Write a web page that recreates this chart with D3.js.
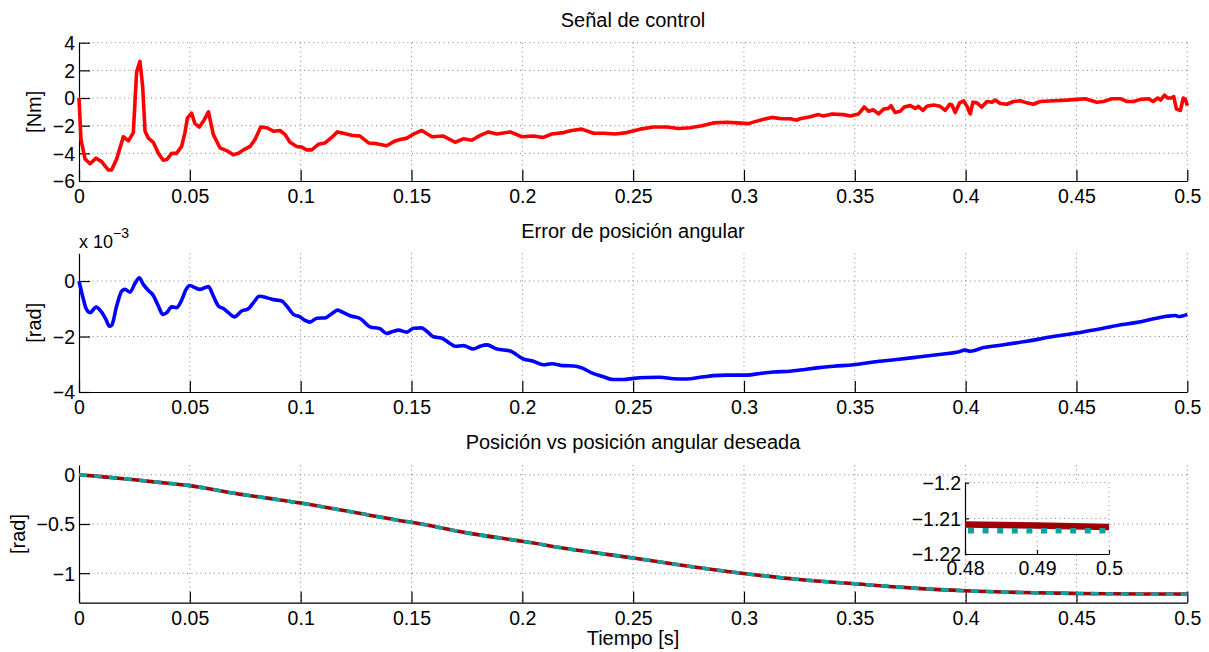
<!DOCTYPE html>
<html><head><meta charset="utf-8">
<script src="https://cdn.jsdelivr.net/npm/d3@7"></script>
<style>
html,body{margin:0;padding:0;background:#fff;}
text{font-family:"Liberation Sans",Arial,Helvetica,sans-serif;fill:#000;}
</style></head>
<body>
<svg id="c" width="1209" height="652"></svg>
<script>
// ---------- DATA ----------
const xTicks = [0,0.05,0.1,0.15,0.2,0.25,0.3,0.35,0.4,0.45,0.5];
const xTickLabels = ["0","0.05","0.1","0.15","0.2","0.25","0.3","0.35","0.4","0.45","0.5"];

// Panel 1: Señal de control [Nm]
const topTicks = [-6,-4,-2,0,2,4];
const topTickLabels = ["\u22126","\u22124","\u22122","0","2","4"];
const tCtrl = [0,0.0009,0.0027,0.005,0.0077,0.0102,0.0132,0.0147,0.017,0.020,0.0223,0.0245,0.026,0.0275,0.0287,0.0298,0.0313,0.0335,0.0358,0.038,0.0396,0.0418,0.044,0.0463,0.0478,0.0489,0.0508,0.0523,0.0543,0.0564,0.0584,0.0606,0.0636,0.0666,0.0696,0.0719,0.0742,0.0772,0.0794,0.082,0.0847,0.0877,0.0907,0.093,0.0952,0.0982,0.1005,0.1027,0.105,0.108,0.111,0.114,0.1166,0.1193,0.123,0.1268,0.1306,0.1343,0.1388,0.1426,0.1449,0.1479,0.1516,0.1546,0.1592,0.1644,0.1697,0.1734,0.1772,0.181,0.1847,0.1885,0.1945,0.1998,0.205,0.2095,0.2133,0.2186,0.2223,0.2268,0.2321,0.2366,0.2419,0.2471,0.2532,0.2592,0.2652,0.2704,0.2757,0.281,0.2862,0.2923,0.2968,0.302,0.3073,0.3126,0.3171,0.3208,0.3238,0.3253,0.3299,0.3336,0.3359,0.3398,0.3449,0.3479,0.3517,0.3543,0.3562,0.3584,0.3607,0.363,0.3652,0.3663,0.3682,0.3705,0.3723,0.375,0.3773,0.3787,0.3807,0.3825,0.3855,0.3885,0.3908,0.3928,0.3938,0.3953,0.3973,0.3991,0.4006,0.4021,0.4033,0.4051,0.4073,0.4096,0.4119,0.4133,0.4156,0.4186,0.4216,0.4246,0.4276,0.4306,0.4336,0.4397,0.4457,0.4502,0.4539,0.4592,0.4622,0.466,0.4698,0.4728,0.4758,0.4788,0.4826,0.4846,0.4867,0.4879,0.4897,0.4912,0.4927,0.4939,0.4951,0.4969,0.4982,0.4992,0.5];
const uCtrl = [0,-3.0,-4.4,-4.75,-4.35,-4.6,-5.2,-5.2,-4.4,-2.8,-3.1,-2.5,1.9,2.65,0.85,-2.4,-2.9,-3.2,-4.0,-4.5,-4.45,-4.0,-4.0,-3.5,-2.5,-1.45,-1.1,-1.85,-2.1,-1.6,-1.0,-2.65,-3.6,-3.8,-4.1,-4.0,-3.75,-3.5,-3.0,-2.1,-2.15,-2.4,-2.35,-2.65,-3.2,-3.5,-3.55,-3.75,-3.75,-3.35,-3.25,-2.85,-2.45,-2.55,-2.7,-2.75,-3.25,-3.3,-3.45,-3.1,-3.0,-2.9,-2.55,-2.35,-2.8,-2.75,-3.2,-2.95,-3.05,-2.7,-2.45,-2.6,-2.45,-2.8,-2.75,-2.85,-2.6,-2.5,-2.35,-2.25,-2.55,-2.55,-2.6,-2.5,-2.25,-2.1,-2.1,-2.2,-2.15,-2.0,-1.8,-1.75,-1.8,-1.85,-1.6,-1.4,-1.5,-1.5,-1.6,-1.5,-1.35,-1.2,-1.3,-1.15,-1.2,-1.3,-1.15,-0.65,-0.95,-0.85,-1.15,-0.8,-0.75,-0.55,-1.05,-0.95,-0.65,-0.55,-0.75,-0.6,-0.9,-0.6,-0.5,-0.6,-0.9,-0.45,-0.5,-1.05,-0.35,-0.2,-0.6,-1.15,-0.3,-0.35,-0.65,-0.25,-0.3,-0.15,-0.4,-0.45,-0.25,-0.2,-0.35,-0.45,-0.25,-0.2,-0.15,-0.1,-0.05,-0.3,-0.25,-0.05,-0.05,-0.25,-0.25,-0.1,-0.05,-0.25,0.0,-0.15,0.2,0.0,0.0,0.1,-0.8,-0.9,0.0,-0.1,-0.55];

// Panel 2: Error de posición angular [rad] (x 10^-3)
const errTicks = [-4,-2,0];
const errTickLabels = ["\u22124","\u22122","0"];
const tErr = [0,0.002,0.0032,0.005,0.0077,0.0102,0.0122,0.0137,0.0147,0.017,0.0193,0.0208,0.023,0.0253,0.0272,0.029,0.0313,0.0335,0.0358,0.0378,0.0396,0.0418,0.044,0.0463,0.0483,0.0501,0.0523,0.0546,0.0584,0.0606,0.0629,0.0651,0.0674,0.0701,0.0734,0.0764,0.0787,0.0814,0.0847,0.0877,0.0915,0.0937,0.0967,0.0997,0.102,0.1042,0.1073,0.111,0.114,0.1166,0.1193,0.123,0.1268,0.1313,0.1358,0.1388,0.1418,0.1441,0.1479,0.1509,0.1546,0.1569,0.1599,0.1637,0.1674,0.1697,0.1734,0.1779,0.181,0.184,0.1885,0.1945,0.2005,0.205,0.2095,0.2133,0.2186,0.2231,0.2268,0.2313,0.2359,0.2411,0.2456,0.2502,0.2562,0.2622,0.2682,0.2742,0.2802,0.2862,0.2923,0.3013,0.3073,0.3133,0.3208,0.3253,0.3329,0.3404,0.3494,0.3584,0.3689,0.3795,0.39,0.396,0.3998,0.4021,0.4081,0.4171,0.4276,0.4382,0.4502,0.4592,0.4683,0.4773,0.4848,0.4908,0.4946,0.4961,0.5];
const eErr = [0,-0.66,-0.99,-1.14,-0.94,-1.12,-1.39,-1.63,-1.6,-0.9,-0.36,-0.3,-0.4,-0.08,0.12,-0.12,-0.34,-0.52,-0.9,-1.2,-1.14,-0.93,-0.96,-0.69,-0.3,-0.16,-0.24,-0.3,-0.2,-0.54,-0.9,-0.99,-1.14,-1.29,-1.08,-1.0,-0.78,-0.55,-0.6,-0.67,-0.72,-0.9,-1.2,-1.29,-1.42,-1.48,-1.34,-1.33,-1.18,-1.05,-1.14,-1.27,-1.35,-1.65,-1.72,-1.89,-1.81,-1.77,-1.84,-1.7,-1.69,-1.81,-2.01,-2.06,-2.25,-2.35,-2.33,-2.45,-2.35,-2.3,-2.45,-2.52,-2.81,-2.89,-3.02,-2.98,-3.05,-3.06,-3.13,-3.31,-3.43,-3.55,-3.55,-3.51,-3.48,-3.47,-3.52,-3.53,-3.47,-3.41,-3.39,-3.39,-3.33,-3.28,-3.25,-3.21,-3.13,-3.07,-3.02,-2.92,-2.83,-2.73,-2.63,-2.57,-2.49,-2.53,-2.4,-2.3,-2.17,-2.02,-1.87,-1.75,-1.6,-1.49,-1.36,-1.27,-1.24,-1.28,-1.2];

// Panel 3: Posición vs posición angular deseada [rad]
const posTicks = [-1,-0.5,0];
const posTickLabels = ["\u22121","\u22120.5","0"];
const tPos = [0,0.01,0.025,0.04,0.05,0.07,0.085,0.1,0.115,0.13,0.145,0.15,0.175,0.2,0.225,0.25,0.275,0.3,0.325,0.35,0.375,0.4,0.425,0.45,0.48,0.49,0.5];
const posActual = [0,-0.018,-0.05,-0.086,-0.11,-0.187,-0.237,-0.287,-0.345,-0.405,-0.466,-0.483,-0.59,-0.676,-0.767,-0.845,-0.929,-1.003,-1.064,-1.108,-1.149,-1.179,-1.196,-1.206,-1.2117,-1.212,-1.2124];
const posDesired = [0,-0.018,-0.05,-0.086,-0.11,-0.187,-0.237,-0.287,-0.345,-0.405,-0.466,-0.483,-0.59,-0.676,-0.767,-0.845,-0.929,-1.003,-1.064,-1.108,-1.149,-1.179,-1.196,-1.206,-1.2135,-1.2135,-1.2135];

// Inset
const insetXTicks = [0.48,0.49,0.5];
const insetXTickLabels = ["0.48","0.49","0.5"];
const insetYTicks = [-1.22,-1.21,-1.2];
const insetYTickLabels = ["\u22121.22","\u22121.21","\u22121.2"];

// ---------- DRAW ----------
const svg = d3.select("#c");
const FS = 19.5;
const x = d3.scaleLinear().domain([0,0.5]).range([79,1187.3]);

function panel(cfg){
  const g = svg.append("g");
  const y = d3.scaleLinear().domain(cfg.yDomain).range([cfg.bottom, cfg.top]);
  // grid
  const grid = g.append("g").attr("stroke","#808080").attr("stroke-width",1).attr("stroke-dasharray","1,3.5");
  cfg.xTicks.forEach(v=>{ if(v!==cfg.xScale.domain()[0]) grid.append("line")
      .attr("x1",cfg.xScale(v)).attr("x2",cfg.xScale(v)).attr("y1",cfg.top).attr("y2",cfg.bottom);});
  cfg.yTicks.forEach(v=>{ if(v!==cfg.yDomain[0]) grid.append("line")
      .attr("x1",cfg.xScale.range()[0]).attr("x2",cfg.xScale.range()[1]).attr("y1",y(v)).attr("y2",y(v));});
  // axes
  const ax = g.append("g").attr("transform",`translate(0,${cfg.bottom})`)
    .call(d3.axisBottom(cfg.xScale).tickValues(cfg.xTicks).tickFormat((d,i)=>cfg.xLabels[i])
      .tickSizeInner(-cfg.tick).tickSizeOuter(0).tickPadding(cfg.xPad));
  const ay = g.append("g").attr("transform",`translate(${cfg.xScale.range()[0]},0)`)
    .call(d3.axisLeft(y).tickValues(cfg.yTicks).tickFormat((d,i)=>cfg.yLabels[i])
      .tickSizeInner(-cfg.tick).tickSizeOuter(0).tickPadding(4));
  [ax,ay].forEach(a=>{
    a.selectAll("path.domain").attr("stroke","#000").attr("stroke-width",1.2);
    a.selectAll(".tick line").attr("stroke","#000").attr("stroke-width",1.2);
    a.selectAll("text").attr("font-size",FS).attr("font-family",'"Liberation Sans",Arial,sans-serif').attr("fill","#000");
  });
  ay.selectAll(".tick text").attr("dy","0.35em");
  return {g,y};
}

// Panel 1
const p1 = panel({top:42.7,bottom:181,yDomain:[-6,4],yTicks:topTicks,yLabels:topTickLabels,xTicks,xLabels:xTickLabels,xScale:x,tick:11,xPad:8});
p1.g.append("path").datum(tCtrl.map((t,i)=>[t,uCtrl[i]]))
  .attr("fill","none").attr("stroke","#ff0000").attr("stroke-width",3.6).attr("stroke-linejoin","round")
  .attr("d",d3.line().x(d=>x(d[0])).y(d=>p1.y(d[1])));

// Panel 2
const p2 = panel({top:253.3,bottom:392,yDomain:[-4,1],yTicks:errTicks,yLabels:errTickLabels,xTicks,xLabels:xTickLabels,xScale:x,tick:11,xPad:8});
p2.g.append("path").datum(tErr.map((t,i)=>[t,eErr[i]]))
  .attr("fill","none").attr("stroke","#0000ff").attr("stroke-width",3.6).attr("stroke-linejoin","round")
  .attr("d",d3.line().x(d=>x(d[0])).y(d=>p2.y(d[1])).curve(d3.curveMonotoneX));

// Panel 3
const p3 = panel({top:465,bottom:602.7,yDomain:[-1.3,0.1],yTicks:posTicks,yLabels:posTickLabels,xTicks,xLabels:xTickLabels,xScale:x,tick:11,xPad:8});
const line3 = d3.line().x(d=>x(d[0])).y(d=>p3.y(d[1])).curve(d3.curveMonotoneX);
p3.g.append("path").datum(tPos.map((t,i)=>[t,posActual[i]]))
  .attr("fill","none").attr("stroke","#a00000").attr("stroke-width",3.6).attr("d",line3);
p3.g.append("path").datum(tPos.map((t,i)=>[t,posDesired[i]]))
  .attr("fill","none").attr("stroke","#11a0a0").attr("stroke-width",3.6).attr("stroke-dasharray","8,7").attr("d",line3);

// Inset
const xi = d3.scaleLinear().domain([0.48,0.5]).range([965,1109]);
svg.append("rect").attr("x",965).attr("y",482.7).attr("width",144).attr("height",71.3).attr("fill","#fff");
const pi = panel({top:482.7,bottom:554,yDomain:[-1.22,-1.2],yTicks:insetYTicks,yLabels:insetYTickLabels,xTicks:insetXTicks,xLabels:insetXTickLabels,xScale:xi,tick:4,xPad:7});
const lineI = d3.line().x(d=>xi(d[0])).y(d=>pi.y(d[1]));
pi.g.append("path").datum(tPos.map((t,i)=>[t,posActual[i]]).filter(d=>d[0]>=0.48))
  .attr("fill","none").attr("stroke","#a00000").attr("stroke-width",6.5).attr("d",lineI);
pi.g.append("path").datum(tPos.map((t,i)=>[t,posDesired[i]]).filter(d=>d[0]>=0.48))
  .attr("fill","none").attr("stroke","#11a0a0").attr("stroke-width",5.5).attr("stroke-dasharray","6,8.6")
  .attr("transform","translate(3,0)").attr("d",lineI);

// Titles & labels
const TS = 20;
svg.append("text").attr("x",633).attr("y",27).attr("text-anchor","middle").attr("font-size",TS).text("Señal de control");
svg.append("text").attr("x",633).attr("y",238.3).attr("text-anchor","middle").attr("font-size",TS).text("Error de posición angular");
svg.append("text").attr("x",633).attr("y",449.3).attr("text-anchor","middle").attr("font-size",TS).text("Posición vs posición angular deseada");
svg.append("text").attr("x",633).attr("y",645).attr("text-anchor","middle").attr("font-size",TS).text("Tiempo [s]");
svg.append("text").attr("transform","translate(41,111.8) rotate(-90)").attr("text-anchor","middle").attr("font-size",TS).text("[Nm]");
svg.append("text").attr("transform","translate(41,322.7) rotate(-90)").attr("text-anchor","middle").attr("font-size",TS).text("[rad]");
svg.append("text").attr("transform","translate(25,534) rotate(-90)").attr("text-anchor","middle").attr("font-size",TS).text("[rad]");
const ex = svg.append("text").attr("x",79).attr("y",248.3).attr("font-size",18);
ex.append("tspan").text("x 10");
ex.append("tspan").attr("dy",-10).attr("font-size",14).text("\u22123");
</script>
</body></html>
